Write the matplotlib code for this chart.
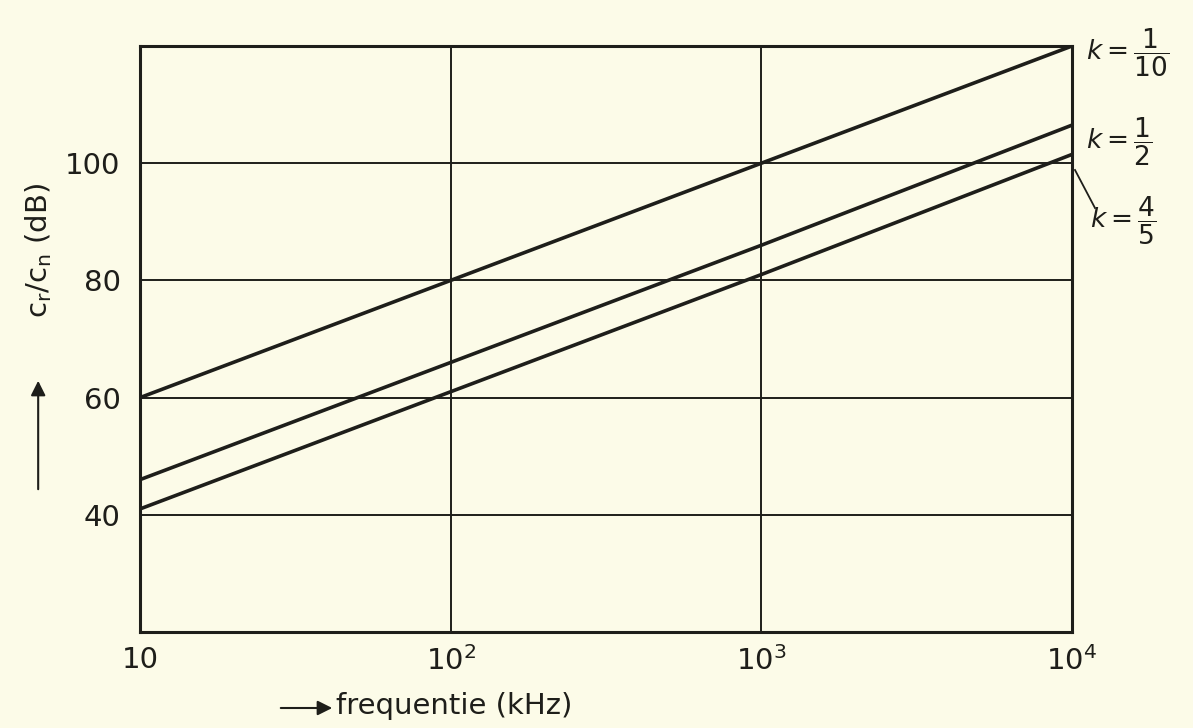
import numpy as np
import matplotlib
matplotlib.use("Agg")
import matplotlib.pyplot as plt

# data
freq = [10, 100, 1000, 10000]          # kHz
k_110 = [60, 80, 100, 120]             # k = 1/10
k_12 = [46, 66, 86, 106.5]             # k = 1/2
k_45 = [41, 61, 81, 101.5]             # k = 4/5
yticks = [40, 60, 80, 100]
xticks = [10, 100, 1000, 10000]
xticklabels = ['10', '$10^2$', '$10^3$', '$10^4$']

bg = '#fcfbe8'
ink = '#1e1e1a'

plt.rcParams['mathtext.fontset'] = 'dejavusans'
fig = plt.figure(figsize=(11.93, 7.28), dpi=100, facecolor=bg)
ax = fig.add_axes([0.1174, 0.1319, 0.7812, 0.8049])
ax.set_facecolor(bg)

for vals in (k_110, k_12, k_45):
    ax.plot(freq, vals, color=ink, lw=2.6, solid_capstyle='butt')

ax.set_xscale('log')
ax.set_xlim(10, 10000)
ax.set_ylim(20, 120)
ax.set_xticks(xticks)
ax.set_xticklabels(xticklabels)
ax.xaxis.set_minor_locator(matplotlib.ticker.NullLocator())
ax.set_yticks(yticks)
ax.grid(True, color=ink, lw=1.4)
ax.tick_params(length=0, labelsize=21, colors=ink)
ax.tick_params(axis='x', pad=10)
ax.tick_params(axis='y', pad=14)
for s in ax.spines.values():
    s.set_color(ink)
    s.set_linewidth(2.2)

# curve labels on the right
tkw = dict(transform=fig.transFigure, fontsize=19, color=ink, va='center', ha='left')
fig.text(0.910, 0.928, r'$k = \dfrac{1}{10}$', **tkw)
fig.text(0.910, 0.805, r'$k = \dfrac{1}{2}$', **tkw)
fig.text(0.914, 0.697, r'$k = \dfrac{4}{5}$', **tkw)
fig.add_artist(plt.Line2D([1075 / 1193, 1095 / 1193], [1 - 170 / 728, 1 - 208 / 728],
                          color=ink, lw=1.3))

# axis titles with arrows
fig.text(0.032, 1 - 250 / 728, r'$\mathregular{c_r/c_n}$ (dB)', rotation=90, fontsize=21,
         color=ink, ha='center', va='center')
ax.annotate('', xy=(0.032, 1 - 378 / 728), xytext=(0.032, 1 - 492 / 728),
            xycoords='figure fraction',
            arrowprops=dict(arrowstyle='-|>', color=ink, lw=1.5, mutation_scale=22))
ax.annotate('', xy=(335 / 1193, 1 - 708 / 728), xytext=(278 / 1193, 1 - 708 / 728),
            xycoords='figure fraction',
            arrowprops=dict(arrowstyle='-|>', color=ink, lw=1.5, mutation_scale=22))
fig.text(336 / 1193, 1 - 706 / 728, 'frequentie (kHz)', fontsize=21, color=ink,
         ha='left', va='center')

fig.savefig('out.png', dpi=100, facecolor=bg)
